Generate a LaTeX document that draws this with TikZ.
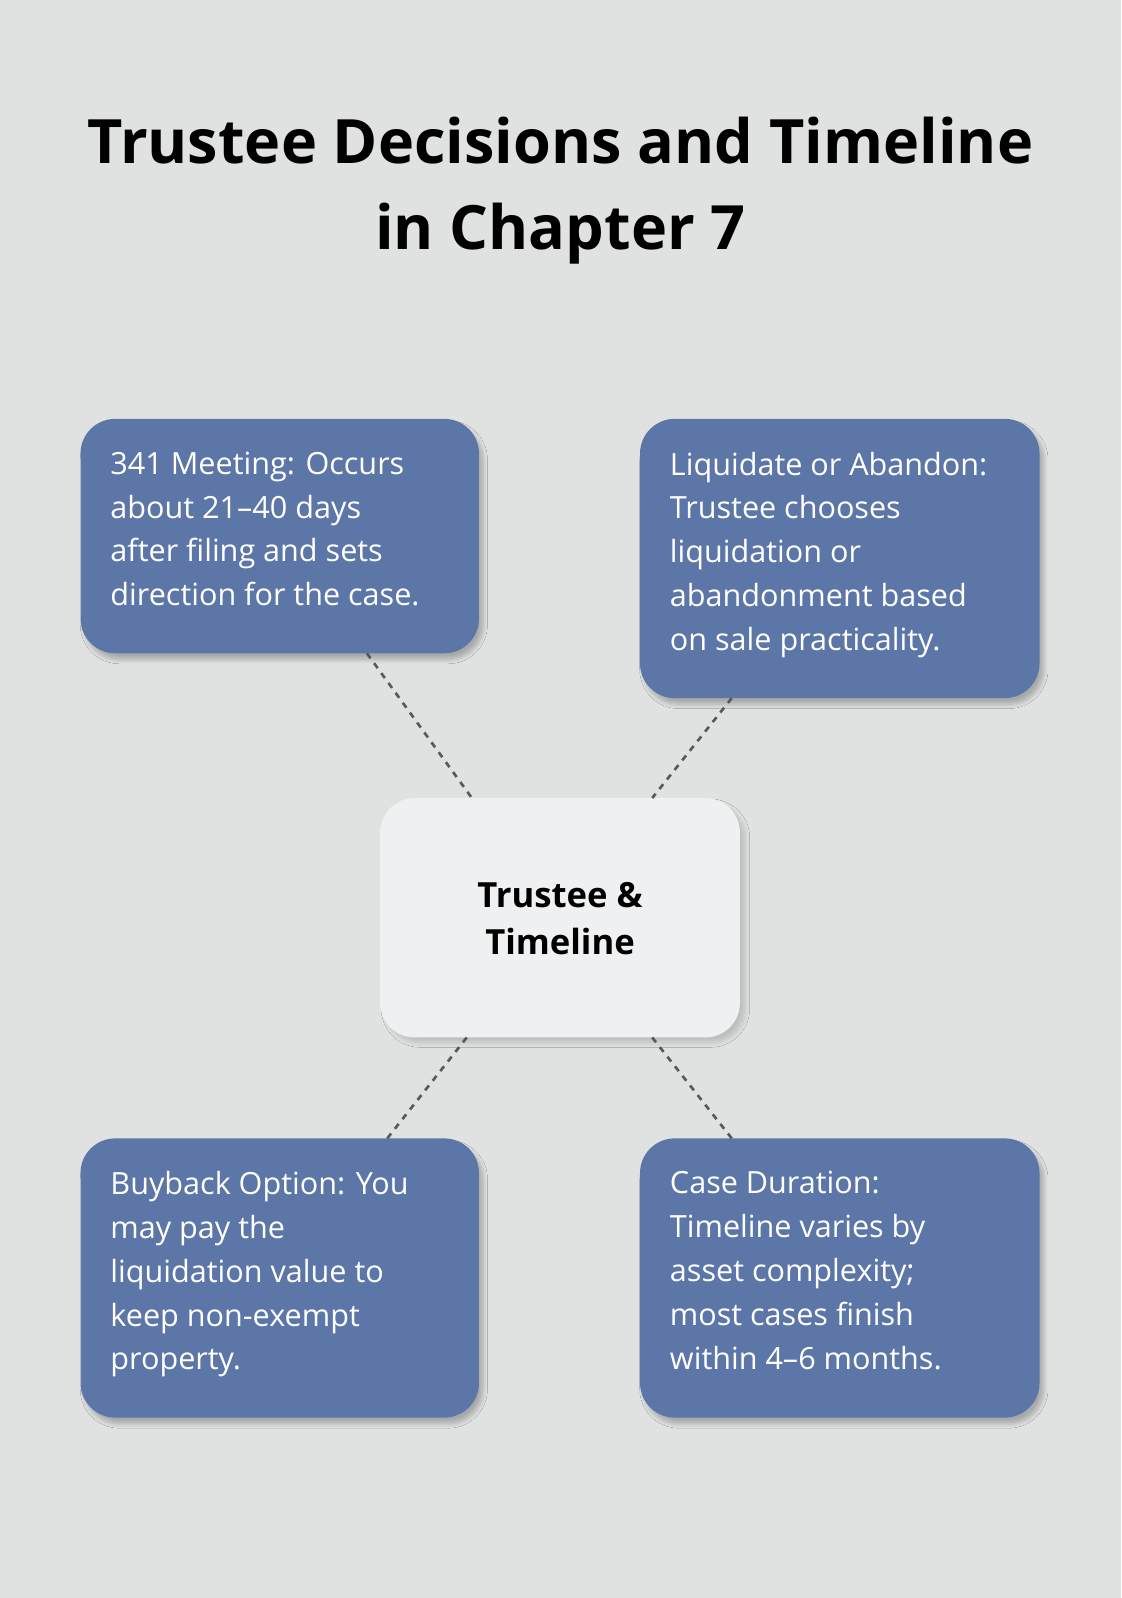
\documentclass[tikz,border=0pt]{standalone}
\usepackage{fontspec}
\setmainfont{Open Sans}
\usetikzlibrary{shadows.blur}
\definecolor{bg}{HTML}{E0E2E1}
\definecolor{boxc}{HTML}{5D76A8}
\definecolor{cen}{HTML}{EFF0F2}
\begin{document}
\begin{tikzpicture}[x=0.5pt,y=-0.5pt,
  box/.style={draw=none,fill=boxc,rounded corners=17pt,blur shadow={shadow blur steps=8,shadow xshift=2pt,shadow yshift=-3pt,shadow opacity=25}},
  txt/.style={anchor=north west,inner sep=0pt,text=white,align=left,font=\fontsize{15}{21.5}\selectfont},
  conn/.style={draw=black!65,line width=1.3pt,dash pattern=on 3pt off 3pt}]
\fill[bg] (0,0) rectangle (1100,1568);
\useasboundingbox (0,0) rectangle (1100,1568);
\node[font=\bfseries\fontsize{30}{42}\selectfont,align=center] (title) at (550,187) {Trustee Decisions and Timeline\\in Chapter 7};
\path[box] (79,411) rectangle (470,641);
\path[box] (628,411) rectangle (1020,685);
\path[box] (79,1117) rectangle (470,1391);
\path[box] (628,1117) rectangle (1020,1391);
\path[fill=cen,rounded corners=17pt,blur shadow={shadow blur steps=8,shadow opacity=15}] (373,783) rectangle (726,1018);
\node[font=\bfseries\fontsize{17}{23}\selectfont,align=center] (c) at (549.5,901) {Trustee \&\\Timeline};
\node[txt] (t1) at (108,443) {341 Meeting: Occurs\\about 21–40 days\\after filing and sets\\direction for the case.};
\node[txt] (t2) at (657,443) {Liquidate or Abandon:\\Trustee chooses\\liquidation or\\abandonment based\\on sale practicality.};
\node[txt] (t3) at (108,1149) {Buyback Option: You\\may pay the\\liquidation value to\\keep non-exempt\\property.};
\node[txt] (t4) at (657,1149) {Case Duration:\\Timeline varies by\\asset complexity;\\most cases finish\\within 4–6 months.};
\coordinate (a1) at (360,641); \coordinate (c1) at (463,783);
\coordinate (a2) at (718,685); \coordinate (c2) at (640,783);
\coordinate (a3) at (380,1117); \coordinate (c3) at (458,1018);
\coordinate (a4) at (718,1117); \coordinate (c4) at (640,1018);
\draw[conn] (a1) -- (c1);
\draw[conn] (a2) -- (c2);
\draw[conn] (c3) -- (a3);
\draw[conn] (c4) -- (a4);
\end{tikzpicture}
\end{document}
